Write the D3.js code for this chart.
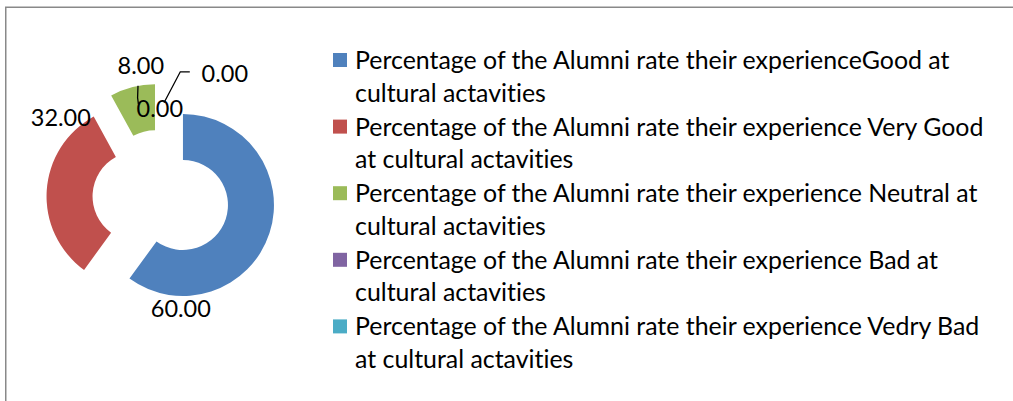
<!DOCTYPE html>
<html><head><meta charset="utf-8">
<script src="https://cdn.jsdelivr.net/npm/d3@7"></script>
<style>
body{margin:0;background:#fff}
text{font-family:Lato,"Open Sans",sans-serif;fill:#000;font-variant-ligatures:none;font-feature-settings:"liga" 0,"clig" 0}
</style></head>
<body><svg id="c" width="1013" height="401"></svg>
<script>
// Survey shares (percent) for each rating
const categories = [
  "Percentage of the Alumni rate their experienceGood at cultural actavities",
  "Percentage of the Alumni rate their experience Very Good at cultural actavities",
  "Percentage of the Alumni rate their experience Neutral at cultural actavities",
  "Percentage of the Alumni rate their experience Bad at cultural actavities",
  "Percentage of the Alumni rate their experience Vedry Bad at cultural actavities"
];
// Legend text broken into its two printed lines
const legendLines = [
  ["Percentage of the Alumni rate their experienceGood at", "cultural actavities"],
  ["Percentage of the Alumni rate their experience Very Good", "at cultural actavities"],
  ["Percentage of the Alumni rate their experience Neutral at", "cultural actavities"],
  ["Percentage of the Alumni rate their experience Bad at", "cultural actavities"],
  ["Percentage of the Alumni rate their experience Vedry Bad", "at cultural actavities"]
];
const values = [60, 32, 8, 0, 0];
const colors = ["#4F81BD", "#C0504D", "#9BBB59", "#8064A2", "#4BACC6"];

// Doughnut geometry
const cx = 160.8, cy = 197.8;
const outerR = 91, innerR = 45, explode = 23.3;

// Label placement relative to the doughnut centre (text-anchor middle, baseline)
const labelOffsets = [[20, 119], [-100, -72], [-20, -124], [-1, -81], [64, -116]];
// Leader lines for the two zero-valued slices
const leaders = [
  null, null, null,
  [[-22.8, -112], [-23.2, -100], [-22.4, -94]],
  [[29, -126], [19.5, -126], [3.2, -95]]
];

const svg = d3.select("#c");

// chart area frame
svg.append("path")
  .attr("d", "M5.75,401V7.25H1013")
  .attr("fill", "none")
  .attr("stroke", "#898989")
  .attr("stroke-width", 1.5);

const pie = d3.pie().sort(null).value(d => d).startAngle(0).endAngle(2 * Math.PI);
const arcs = pie(values);
const arc = d3.arc().innerRadius(innerR).outerRadius(outerR);

const g = svg.append("g").attr("transform", `translate(${cx},${cy})`);

g.selectAll("path.slice")
  .data(arcs.filter(d => d.value > 0))
  .join("path")
  .attr("class", "slice")
  .attr("d", arc)
  .attr("fill", d => colors[d.index])
  .attr("transform", d => {
    const a = (d.startAngle + d.endAngle) / 2;
    return `translate(${explode * Math.sin(a)},${-explode * Math.cos(a)})`;
  });

// leader lines
const line = d3.line().curve(d3.curveLinear);
leaders.forEach((pts) => {
  if (!pts) return;
  g.append("path")
    .attr("d", line(pts))
    .attr("fill", "none")
    .attr("stroke", "#000")
    .attr("stroke-width", 1.3);
});

// value labels
g.selectAll("text.val")
  .data(arcs)
  .join("text")
  .attr("class", "val")
  .attr("x", d => labelOffsets[d.index][0])
  .attr("y", d => labelOffsets[d.index][1])
  .attr("text-anchor", "middle")
  .style("font-size", "23.5px")
  .text(d => d3.format(".2f")(d.value));

// legend
const legX = 333, legY0 = 69, rowStep = 66.6, lineStep = 32.5;
const leg = svg.append("g");
categories.forEach((c, i) => {
  const by = legY0 + i * rowStep;
  leg.append("rect")
    .attr("x", legX).attr("y", by - 16)
    .attr("width", 14).attr("height", 14)
    .attr("fill", colors[i]);
  legendLines[i].forEach((t, j) => {
    leg.append("text")
      .attr("x", legX + 22)
      .attr("y", by + j * lineStep)
      .style("font-size", "24.9px")
      .text(t);
  });
});
</script></body></html>
